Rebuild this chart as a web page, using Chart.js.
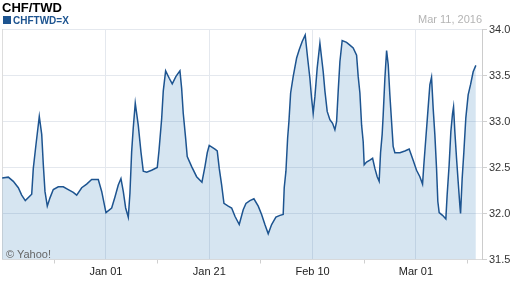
<!DOCTYPE html>
<html>
<head>
<meta charset="utf-8">
<script src="https://cdn.jsdelivr.net/npm/chart.js@4/dist/chart.umd.min.js"></script>
<style>
  html, body { margin: 0; padding: 0; background: #fff; }
  #wrap { position: relative; width: 512px; height: 288px; overflow: hidden; font-family: "Liberation Sans", Arial, sans-serif; }
  #c { position: absolute; left: 0; top: 0; }
  .t { position: absolute; white-space: nowrap; }
  #title { left: 2px; top: 1px; font-size: 13px; line-height: 13px; font-weight: bold; color: #000; }
  #legsq { left: 3px; top: 16px; width: 8px; height: 8px; background: #1d5490; }
  #legtx { left: 13px; top: 16px; font-size: 10px; line-height: 10px; font-weight: bold; color: #1d5490; }
  #date { left: 418px; top: 13.5px; font-size: 11px; line-height: 11px; color: #b4b4b4; }
  #yahoo { left: 6px; top: 249px; font-size: 11px; line-height: 11px; color: #666; }
</style>
</head>
<body>
<div id="wrap">
  <canvas id="c" width="512" height="288"></canvas>
  <div class="t" id="title">CHF/TWD</div>
  <div class="t" id="legsq"></div>
  <div class="t" id="legtx">CHFTWD=X</div>
  <div class="t" id="date">Mar 11, 2016</div>
  <div class="t" id="yahoo">© Yahoo!</div>
</div>
<script>
// Days since 2016-01-01 (fractional)
const dayOffsets = [
  -20.1, -18.91, -17.94, -16.97, -16.32, -15.62, -14.38, -14.07, -13.55, -12.91,
  -12.44, -12.13, -11.81, -11.36, -10.84, -10.20, -9.23, -8.26, -7.30, -6.33,
  -5.67, -4.70, -3.74, -2.77, -1.49, -0.83, 0, 1.10, 1.74, 2.38,
  2.90, 3.35, 3.81, 4.32, 4.64, 4.97, 5.28, 5.67, 6.25, 6.77,
  7.22, 7.88, 8.84, 9.93, 10.26, 10.78, 11.09, 11.55, 12.25, 12.83,
  13.55, 14.32, 14.65, 14.96, 15.42, 15.73, 16.59, 17.55, 18.58, 19.16,
  19.61, 19.99, 21.10, 21.54, 21.93, 22.39, 22.84, 23.67, 24.33, 24.97,
  25.80, 26.57, 27.10, 27.87, 28.64, 29.48, 30.13, 30.77, 31.41, 32.07,
  32.90, 33.68, 34.31, 34.51, 34.84, 35.17, 35.42, 35.75, 36.25, 36.91,
  37.41, 37.99, 38.57, 39.04, 39.48, 39.81, 40.12, 40.45, 40.89, 41.42,
  41.75, 42.06, 42.39, 42.83, 43.35, 43.87, 44.32, 44.65, 44.96, 45.29,
  45.73, 46.58, 47.22, 47.86, 48.52, 48.83, 49.16, 49.49, 49.80, 49.99,
  50.45, 51.09, 51.62, 52.06, 52.51, 52.89, 53.16, 53.47, 53.67, 54.00,
  54.33, 54.64, 54.96, 55.29, 55.60, 55.93, 56.90, 57.87, 58.70, 59.47,
  60.13, 60.77, 61.29, 61.54, 61.93, 62.32, 62.71, 63.03, 63.35, 63.67,
  64.00, 64.25, 64.51, 65.16, 65.80, 66.05, 66.44, 66.77, 67.10, 67.29,
  67.54, 67.87, 68.18, 68.51, 68.65, 68.96, 69.29, 69.67, 70.12, 70.58,
  71.09, 71.61
];
const rates = [
  32.385, 32.395, 32.35, 32.28, 32.20, 32.14, 32.21, 32.49, 32.75, 33.055,
  32.86, 32.53, 32.24, 32.08, 32.17, 32.26, 32.29, 32.29, 32.26, 32.23,
  32.20, 32.28, 32.32, 32.37, 32.37, 32.24, 32.01, 32.06, 32.18, 32.31,
  32.38, 32.24, 32.06, 31.96, 32.22, 32.67, 32.93, 33.20, 32.96, 32.67,
  32.46, 32.45, 32.47, 32.50, 32.68, 33.03, 33.33, 33.55, 33.47, 33.41,
  33.49, 33.55, 33.36, 33.09, 32.82, 32.62, 32.51, 32.40, 32.34, 32.51,
  32.66, 32.74, 32.70, 32.68, 32.49, 32.31, 32.11, 32.08, 32.06, 31.97,
  31.88, 32.04, 32.11, 32.14, 32.16, 32.08, 31.99, 31.88, 31.78, 31.88,
  31.96, 31.98, 31.99, 32.28, 32.46, 32.82, 33.00, 33.31, 33.49, 33.69,
  33.78, 33.87, 33.94, 33.69, 33.47, 33.25, 33.09, 33.27, 33.58, 33.85,
  33.69, 33.54, 33.33, 33.11, 33.02, 32.98, 32.91, 33.00, 33.33, 33.65,
  33.88, 33.86, 33.83, 33.80, 33.72, 33.49, 33.31, 32.96, 32.78, 32.53,
  32.56, 32.58, 32.60, 32.49, 32.40, 32.35, 32.66, 32.86, 33.07, 33.47,
  33.77, 33.62, 33.29, 33.00, 32.73, 32.66, 32.66, 32.68, 32.70, 32.58,
  32.47, 32.40, 32.32, 32.53, 32.82, 33.11, 33.40, 33.48, 33.14, 32.86,
  32.49, 32.13, 32.01, 31.98, 31.94, 32.20, 32.53, 32.89, 33.09, 33.16,
  32.89, 32.60, 32.35, 32.09, 32.00, 32.38, 32.67, 33.04, 33.29, 33.40,
  33.54, 33.61
];
const majorTickDays = [0, 20, 40, 60];
const majorTickLabels = ['Jan 01', 'Jan 21', 'Feb 10', 'Mar 01'];
const minorTickDays = [-10, 10, 30, 50, 70];
const yTickValues = [31.5, 32.0, 32.5, 33.0, 33.5, 34.0];

const points = dayOffsets.map((d, i) => ({ x: d, y: rates[i] }));
const allXTicks = [...minorTickDays, ...majorTickDays].sort((a, b) => a - b);
const FONT = '"Liberation Sans", Arial, sans-serif';
const GRID = '#e4e8ee';

new Chart(document.getElementById('c'), {
  type: 'line',
  data: {
    datasets: [{
      data: points,
      borderColor: '#1d5490',
      borderWidth: 1.5,
      backgroundColor: 'rgba(30,110,175,0.18)',
      fill: 'start',
      pointRadius: 0,
      tension: 0
    }]
  },
  options: {
    responsive: false,
    animation: false,
    events: [],
    layout: { padding: { left: 2, top: 29.5, right: 0, bottom: 0 } },
    plugins: { legend: { display: false }, tooltip: { enabled: false }, title: { display: false } },
    scales: {
      x: {
        type: 'linear',
        min: -20.13,
        max: 72.8,
        afterBuildTicks: (s) => { s.ticks = allXTicks.map(v => ({ value: v })); },
        afterFit: (s) => { s.height = 28.5; },
        grid: {
          color: (ctx) => majorTickDays.includes(ctx.tick && ctx.tick.value) ? GRID : 'rgba(0,0,0,0)',
          tickColor: (ctx) => minorTickDays.includes(ctx.tick && ctx.tick.value) ? '#cfcfcf' : 'rgba(0,0,0,0)',
          tickLength: 4,
          drawOnChartArea: true
        },
        border: { display: true, color: '#dcdcdc' },
        ticks: {
          autoSkip: false,
          maxRotation: 0,
          padding: 2,
          color: '#222',
          font: { family: FONT, size: 11 },
          callback: (v) => {
            const i = majorTickDays.indexOf(v);
            return i >= 0 ? majorTickLabels[i] : '';
          }
        }
      },
      y: {
        position: 'right',
        min: 31.5,
        max: 34.0,
        afterBuildTicks: (s) => { s.ticks = yTickValues.map(v => ({ value: v })); },
        afterFit: (s) => { s.width = 30; },
        grid: { color: GRID, tickColor: '#d0d0d0', tickLength: 5 },
        border: { display: true, color: '#cccccc' },
        ticks: {
          padding: 2,
          color: '#333',
          font: { family: FONT, size: 11 },
          callback: (v) => Number(v).toFixed(1)
        }
      },
      yl: {
        position: 'left',
        display: true,
        min: 31.5,
        max: 34.0,
        afterFit: (s) => { s.width = 0; },
        grid: { display: false },
        border: { display: true, color: '#dddddd' },
        ticks: { display: false }
      }
    }
  }
});
</script>
</body>
</html>
